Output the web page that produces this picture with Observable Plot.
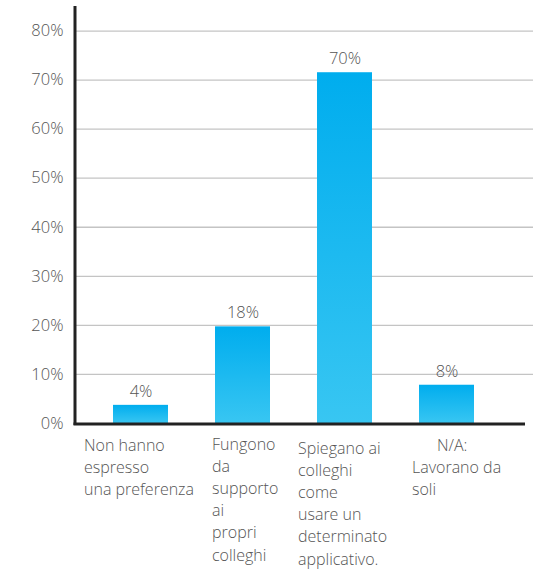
<!DOCTYPE html>
<html><head><meta charset="utf-8">
<script src="https://cdn.jsdelivr.net/npm/d3@7"></script>
<script src="https://cdn.jsdelivr.net/npm/@observablehq/plot@0.6"></script>
<style>body{margin:0;background:#fff} svg{display:block}</style>
</head><body><div id="chart"></div>
<script>
const categories = [
  "Non hanno\nespresso\nuna preferenza",
  "Fungono\nda\nsupporto\nai\npropri\ncolleghi",
  "Spiegano ai\ncolleghi\ncome\nusare un\ndeterminato\napplicativo.",
  "\u00a0\u00a0\u00a0\u00a0\u00a0\u00a0N/A:\nLavorano da\nsoli"
];
const values = [3.7, 19.7, 71.5, 7.8];
const valueLabels = ["4%", "18%", "70%", "8%"];
const yTicks = [0, 10, 20, 30, 40, 50, 60, 70, 80];

const data = categories.map((c, i) => ({category: c, value: values[i], label: valueLabels[i], i}));

const labelDx = [-57, -31, -47, -35];
const labelDy = [12, 11, 15, 12];
const textColor = "#555555";
const font = "'Open Sans', sans-serif";

const catMarks = data.map((d, i) => Plot.text([d], {
  x: "category", text: "category", frameAnchor: "bottom",
  textAnchor: "start", lineAnchor: "top", lineHeight: 1.38,
  dx: labelDx[i], dy: labelDy[i], fill: textColor, fontSize: 16, fontWeight: 300
}));

const chart = Plot.plot({
  width: 533, height: 570,
  marginLeft: 75, marginRight: 0, marginTop: 6, marginBottom: 147,
  style: {fontFamily: font, background: "#fff"},
  x: {domain: categories, range: [75, 512], paddingInner: 0.46, paddingOuter: 0.365, axis: null},
  y: {domain: [0, 85], ticks: yTicks, tickFormat: d => d + "%", tickSize: 0, tickPadding: 12, label: null},
  marks: [
    Plot.ruleY(yTicks.filter(d => d > 0), {stroke: "#c4c4c4", strokeWidth: 1.3}),
    Plot.barY(data, {x: "category", y: "value", fill: "url(#barGrad)"}),
    Plot.text(data, {x: "category", y: "value", text: "label", dy: -14, fill: textColor, fontSize: 16.5, fontWeight: 300}),
    ...catMarks
  ]
});

document.getElementById("chart").appendChild(chart);
const svg = d3.select(chart);
svg.selectAll("g[aria-label='y-axis tick label']").attr("fill", textColor).attr("font-size", 16.5).attr("font-weight", 300);
const defs = svg.insert("defs", ":first-child");
const g = defs.append("linearGradient").attr("id", "barGrad").attr("x1", 0).attr("y1", 0).attr("x2", 0).attr("y2", 1);
g.append("stop").attr("offset", "0%").attr("stop-color", "#00adee");
g.append("stop").attr("offset", "100%").attr("stop-color", "#38c6f2");

const ys = chart.scale("y");
const y0 = ys.apply(0);
svg.append("line").attr("x1", 75).attr("x2", 75).attr("y1", 6).attr("y2", y0 + 2)
  .attr("stroke", "#222").attr("stroke-width", 3);
svg.append("line").attr("x1", 73.5).attr("x2", 525).attr("y1", y0 + 1).attr("y2", y0 + 1)
  .attr("stroke", "#222").attr("stroke-width", 3);
</script>
</body></html>
